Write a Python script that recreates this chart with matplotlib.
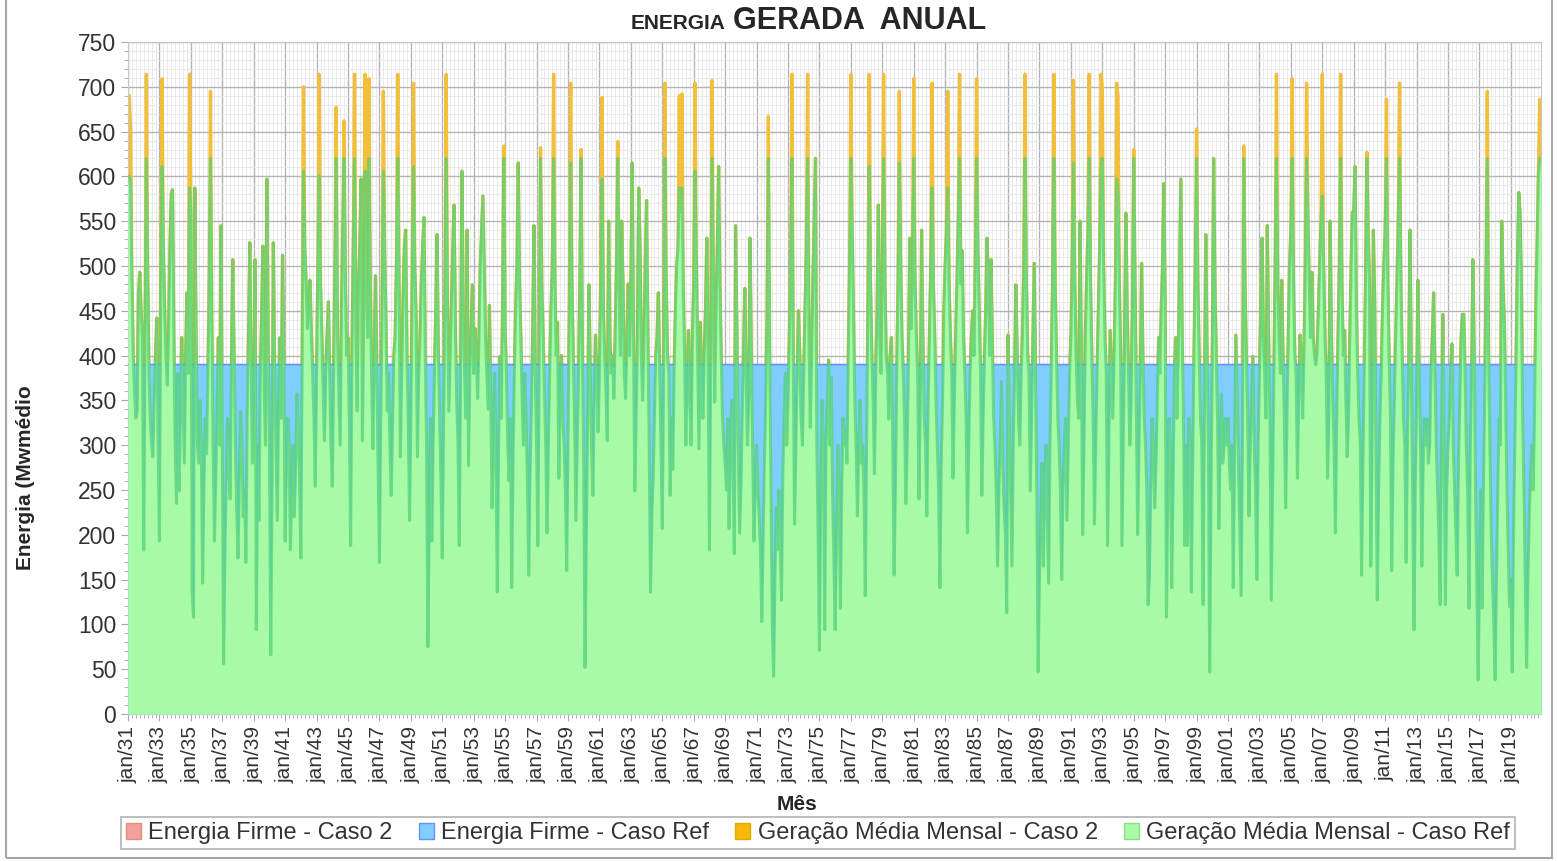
import numpy as np
import matplotlib
matplotlib.use("Agg")
from matplotlib import pyplot as plt
from matplotlib.patches import Patch, Rectangle
from matplotlib.ticker import MultipleLocator

plt.rcParams['font.family'] = ['Liberation Sans', 'DejaVu Sans']

ano_inicial = 1931

# geracao media mensal - caso ref (MWmedio), uma linha por ano, jan..dez
geracao_ref = [
    [600, 600, 590, 480, 400, 360, 330, 338, 470, 493, 450, 420],  # 1931
    [183, 420, 620, 500, 380, 330, 300, 287, 350, 400, 442, 300],
    [193, 480, 611, 520, 450, 400, 367, 430, 520, 580, 585, 420],
    [300, 235, 380, 249, 330, 420, 350, 280, 400, 470, 380, 587],
    [560, 136, 108, 587, 420, 300, 280, 350, 290, 146, 260, 330],  # 1935
    [290, 380, 480, 620, 440, 300, 193, 260, 340, 420, 300, 545],
    [300, 56, 180, 260, 330, 280, 240, 390, 507, 400, 300, 230],
    [174, 260, 338, 300, 220, 250, 169, 330, 420, 526, 400, 280],
    [330, 507, 94, 300, 216, 380, 440, 522, 360, 300, 597, 420],
    [300, 66, 250, 526, 380, 300, 216, 350, 420, 330, 512, 400],  # 1940
    [193, 280, 330, 300, 183, 250, 300, 220, 280, 357, 320, 260],
    [174, 400, 606, 520, 480, 430, 460, 484, 423, 380, 330, 254],
    [380, 500, 601, 480, 420, 360, 305, 380, 420, 460, 380, 300],
    [254, 380, 500, 620, 420, 360, 300, 450, 540, 620, 480, 400],
    [420, 330, 188, 400, 520, 620, 430, 338, 480, 520, 597, 305],  # 1945
    [440, 606, 500, 420, 620, 480, 380, 296, 400, 489, 380, 280],
    [169, 330, 450, 606, 520, 430, 338, 380, 300, 244, 320, 400],
    [420, 500, 620, 480, 287, 380, 460, 520, 540, 400, 330, 216],
    [330, 480, 611, 500, 440, 287, 380, 420, 480, 520, 554, 400],
    [300, 75, 220, 330, 193, 300, 380, 450, 535, 400, 330, 260],  # 1950
    [174, 330, 480, 620, 450, 338, 400, 460, 520, 568, 430, 350],
    [300, 188, 400, 606, 450, 380, 330, 540, 277, 380, 430, 479],
    [380, 430, 400, 352, 420, 500, 540, 578, 500, 420, 380, 340],
    [456, 350, 230, 300, 380, 280, 136, 300, 399, 330, 450, 620],
    [428, 380, 300, 260, 330, 141, 280, 380, 450, 500, 615, 480],  # 1955
    [418, 350, 300, 380, 330, 260, 155, 268, 340, 420, 545, 380],
    [300, 188, 400, 620, 480, 420, 360, 300, 202, 300, 380, 450],
    [500, 620, 480, 400, 437, 263, 350, 400, 330, 300, 250, 160],
    [300, 450, 615, 480, 400, 330, 216, 300, 380, 480, 620, 400],
    [280, 52, 200, 330, 479, 380, 300, 244, 350, 423, 380, 315],  # 1960
    [380, 480, 597, 450, 400, 360, 305, 550, 420, 380, 400, 352],
    [420, 500, 620, 480, 400, 550, 480, 380, 352, 420, 480, 400],
    [480, 615, 420, 249, 330, 420, 587, 522, 400, 350, 420, 500],
    [573, 420, 300, 136, 220, 263, 330, 400, 420, 470, 380, 300],
    [207, 380, 620, 480, 400, 380, 244, 330, 273, 380, 450, 500],  # 1965
    [520, 587, 560, 587, 480, 400, 300, 380, 428, 350, 300, 420],
    [480, 606, 500, 400, 296, 437, 380, 330, 400, 450, 531, 400],
    [183, 400, 620, 480, 348, 450, 520, 611, 480, 400, 330, 300],
    [280, 250, 330, 207, 300, 350, 280, 179, 545, 420, 300, 202],
    [250, 330, 400, 475, 380, 300, 350, 531, 400, 300, 193, 250],  # 1970
    [300, 250, 220, 180, 103, 200, 280, 350, 450, 620, 400, 250],
    [100, 42, 150, 230, 183, 250, 200, 127, 263, 330, 380, 300],
    [350, 420, 500, 620, 400, 212, 300, 380, 450, 400, 330, 300],
    [380, 450, 520, 620, 420, 320, 400, 480, 550, 620, 300, 200],
    [71, 250, 350, 300, 94, 300, 350, 395, 300, 376, 250, 180],  # 1975
    [94, 200, 300, 250, 118, 250, 330, 300, 320, 280, 400, 500],
    [620, 540, 446, 350, 300, 221, 300, 350, 280, 300, 250, 132],
    [300, 450, 611, 480, 400, 350, 268, 380, 450, 568, 420, 380],
    [500, 620, 480, 400, 380, 329, 400, 420, 300, 155, 250, 380],
    [480, 615, 500, 420, 380, 330, 235, 300, 400, 531, 430, 500],  # 1980
    [620, 480, 420, 380, 240, 350, 540, 420, 330, 300, 221, 350],
    [420, 500, 587, 480, 423, 350, 300, 250, 141, 280, 350, 450],
    [500, 540, 587, 480, 420, 380, 263, 350, 420, 480, 550, 620],
    [480, 517, 420, 380, 330, 202, 300, 380, 420, 450, 400, 500],
    [620, 520, 450, 380, 244, 330, 400, 450, 531, 480, 400, 507],  # 1985
    [420, 330, 300, 250, 165, 250, 300, 371, 280, 230, 200, 113],
    [423, 330, 250, 165, 300, 380, 479, 400, 330, 300, 380, 420],
    [500, 620, 480, 400, 380, 249, 330, 420, 503, 380, 250, 47],
    [150, 220, 280, 165, 250, 300, 220, 146, 300, 380, 480, 620],
    [480, 400, 330, 300, 250, 150, 250, 300, 330, 216, 300, 380],  # 1990
    [420, 500, 615, 480, 400, 350, 330, 550, 400, 200, 300, 420],
    [480, 540, 620, 480, 400, 330, 212, 300, 380, 450, 520, 606],
    [620, 500, 420, 380, 188, 300, 428, 380, 330, 400, 480, 597],
    [580, 480, 400, 188, 300, 420, 559, 450, 380, 300, 350, 450],
    [620, 480, 350, 200, 300, 380, 503, 400, 330, 300, 250, 122],  # 1995
    [155, 250, 330, 300, 230, 280, 350, 420, 380, 450, 500, 592],
    [450, 108, 250, 330, 300, 141, 250, 380, 420, 330, 400, 500],
    [597, 420, 330, 188, 300, 188, 330, 305, 136, 280, 400, 500],
    [620, 480, 400, 330, 300, 122, 350, 535, 400, 300, 47, 250],
    [400, 620, 480, 400, 330, 207, 300, 357, 280, 300, 330, 300],  # 2000
    [330, 280, 250, 300, 141, 300, 423, 350, 280, 200, 132, 300],
    [620, 480, 400, 330, 221, 300, 350, 399, 300, 250, 150, 300],
    [380, 450, 531, 420, 380, 330, 545, 420, 330, 127, 250, 380],
    [500, 620, 480, 420, 380, 484, 400, 330, 230, 330, 420, 500],
    [540, 620, 480, 400, 380, 263, 350, 423, 400, 330, 400, 500],  # 2005
    [620, 560, 480, 420, 493, 420, 400, 390, 404, 450, 500, 550],
    [578, 500, 420, 380, 263, 330, 550, 420, 350, 300, 202, 330],
    [420, 500, 620, 480, 400, 428, 350, 287, 330, 420, 500, 560],
    [560, 611, 450, 380, 330, 300, 155, 280, 380, 480, 620, 540],
    [480, 165, 300, 540, 460, 300, 127, 250, 330, 380, 450, 500],  # 2010
    [540, 620, 480, 400, 330, 160, 280, 350, 420, 480, 550, 620],
    [480, 400, 330, 300, 169, 300, 400, 540, 380, 250, 94, 250],
    [350, 484, 380, 300, 165, 280, 330, 300, 329, 280, 300, 380],
    [420, 470, 380, 300, 250, 200, 122, 300, 446, 300, 122, 250],
    [300, 330, 380, 413, 300, 250, 200, 155, 280, 350, 420, 446],  # 2015
    [446, 380, 300, 250, 118, 300, 380, 507, 400, 250, 150, 38],
    [150, 250, 118, 250, 350, 480, 620, 400, 300, 200, 150, 100],
    [38, 150, 250, 330, 300, 550, 480, 437, 350, 250, 180, 120],
    [150, 47, 200, 300, 400, 500, 582, 560, 480, 330, 250, 150],
    [52, 150, 220, 268, 300, 250, 330, 450, 520, 600, 620, 620],  # 2020
]

# meses em que a geracao do caso 2 passa da do caso ref
pico_ano = [1931, 1931, 1931, 1932, 1933, 1934, 1936, 1942, 1943, 1944, 1944,
            1945, 1946, 1946, 1947, 1948, 1949, 1951, 1954, 1957, 1958, 1959,
            1959, 1961, 1962, 1965, 1966, 1966, 1967, 1968, 1971, 1973, 1974,
            1977, 1978, 1979, 1980, 1981, 1982, 1983, 1983, 1985, 1988, 1989,
            1991, 1992, 1992, 1993, 1993, 1994, 1995, 1999, 2002, 2004, 2005,
            2006, 2007, 2008, 2009, 2011, 2011, 2017, 2020]
pico_mes = [1, 2, 3, 3, 3, 12, 4, 3, 3, 4, 10,
            6, 2, 5, 4, 3, 3, 4, 12, 4, 2, 3,
            11, 3, 3, 3, 2, 4, 2, 3, 10, 4, 4,
            1, 3, 2, 2, 1, 3, 3, 12, 1, 2, 12,
            3, 3, 12, 1, 12, 1, 1, 1, 1, 2, 2,
            1, 1, 3, 11, 2, 12, 7, 11]
pico_valor = [660, 690, 650, 714, 709, 714, 695, 700, 714, 677, 662,
              714, 714, 709, 695, 714, 704, 714, 634, 632, 714, 704,
              630, 688, 639, 704, 690, 692, 704, 707, 667, 714, 714,
              714, 714, 714, 695, 709, 704, 695, 714, 709, 714, 714,
              707, 714, 714, 700, 704, 690, 630, 653, 634, 714, 709,
              704, 714, 714, 627, 686, 704, 695, 686]

energia_firme_ref = 390
energia_firme_caso2 = 390

rotulos_x = ["jan/%02d" % (a % 100) for a in range(1931, 2020, 2)]

ref = np.array(geracao_ref, dtype=float).ravel()
caso2 = ref.copy()
for a, m, v in zip(pico_ano, pico_mes, pico_valor):
    caso2[(a - ano_inicial) * 12 + m - 1] = v
meses = np.arange(len(ref))
firme_ref = np.full(len(ref), energia_firme_ref, dtype=float)
firme_caso2 = np.full(len(ref), energia_firme_caso2, dtype=float)

cor_rosa = "#f4a09c"
cor_azul = "#80cdff"
cor_laranja = "#f7b80c"
cor_verde = "#a8fba6"

fig = plt.figure(figsize=(15.58, 8.61), dpi=100)
ax = fig.add_axes([128 / 1558, 1 - 714 / 861, (1541 - 128) / 1558, (714 - 42) / 861])

ax.fill_between(meses, 0, caso2, color=cor_laranja, lw=0, zorder=2)
ax.plot(meses, caso2, color="#f2bf3a", lw=2.4, zorder=2.1)
ax.fill_between(meses, 0, firme_caso2, color=cor_rosa, lw=0, zorder=2.5)
ax.fill_between(meses, 0, firme_ref, color=cor_azul, lw=0, zorder=3)
ax.plot(meses, firme_ref, color="#6d8cff", lw=1.2, zorder=3.1)
ax.fill_between(meses, 0, ref, color=cor_verde, lw=0, zorder=4)
ax.plot(meses, ref, color="#4fcf74", lw=2.2, alpha=0.7, zorder=5)

ax.set_xlim(0, len(ref) - 1)
ax.set_ylim(0, 750)
ax.set_xticks(np.arange(len(rotulos_x)) * 24)
ax.set_xticklabels(rotulos_x, rotation=90, fontsize=15)
ax.xaxis.set_minor_locator(MultipleLocator(3))
ax.yaxis.set_major_locator(MultipleLocator(50))
ax.yaxis.set_minor_locator(MultipleLocator(10))
ax.tick_params(axis='y', labelsize=16.5)
ax.tick_params(which='both', color='#a8a8a8', labelcolor='#333333')
ax.tick_params(which='major', length=5)
ax.tick_params(which='minor', length=3)

ax.set_axisbelow(True)
ax.grid(which='major', color='#b4b4b4', lw=1.0)
ax.grid(which='minor', color='#e6e6e6', lw=0.6)
for s in ax.spines.values():
    s.set_color('#c8c8c8')

fig.text(725 / 1558, 1 - 29 / 861, "ENERGIA", ha='right', va='baseline',
         fontsize=15, fontweight='bold', color='#262626')
fig.text(733 / 1558, 1 - 29 / 861, "GERADA  ANUAL", ha='left', va='baseline',
         fontsize=22, fontweight='bold', color='#262626')
fig.text(797 / 1558, 1 - 805 / 861, "Mês", ha='center', va='center',
         fontsize=15, fontweight='bold', color='#262626')
fig.text(26 / 1558, 1 - 478 / 861, "Energia (Mwmédio", ha='center', va='center',
         rotation=90, fontsize=15, fontweight='bold', color='#262626')

handles = [Patch(facecolor=cor_rosa, edgecolor='#e88c88'),
           Patch(facecolor=cor_azul, edgecolor='#6d8cff'),
           Patch(facecolor=cor_laranja, edgecolor='#e0a800'),
           Patch(facecolor=cor_verde, edgecolor='#8be08a')]
nomes = ["Energia Firme - Caso 2", "Energia Firme - Caso Ref",
         "Geração Média Mensal - Caso 2", "Geração Média Mensal - Caso Ref"]
leg = fig.legend(handles, nomes, loc='center', bbox_to_anchor=(818 / 1558, 1 - 833 / 861),
                 ncol=4, fontsize=17, frameon=True, fancybox=False,
                 handlelength=0.65, handleheight=0.65, handletextpad=0.3,
                 columnspacing=1.1, borderpad=0.2)
leg.get_frame().set_edgecolor('#a0a0a0')
leg.get_frame().set_linewidth(1.2)
for t in leg.get_texts():
    t.set_color('#333333')

fig.add_artist(Rectangle((0.004, 0.004), 0.992, 1.2, transform=fig.transFigure,
                         fill=False, edgecolor='#a6a6a6', lw=1.5))

fig.savefig("out.png", dpi=100)
